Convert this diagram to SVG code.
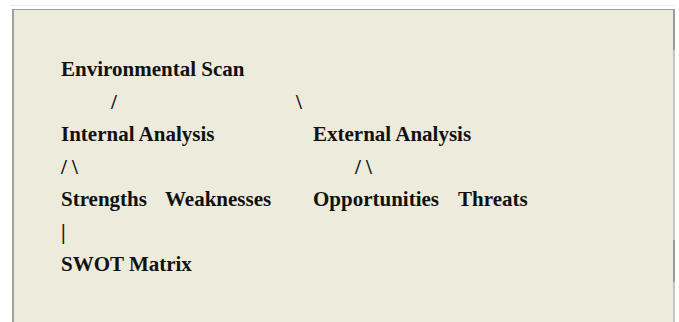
<svg xmlns="http://www.w3.org/2000/svg" width="679" height="322" viewBox="0 0 679 322">
<style>
text { font-family: "Liberation Serif", "Times New Roman", serif; font-size: 21px; font-weight: bold; fill: #111; }
.c { font-weight: normal; }
</style>
<rect x="0" y="0" width="679" height="322" fill="#ffffff"/>
<line x1="10" y1="5.5" x2="676" y2="5.5" stroke="#ededed" stroke-width="1"/>
<rect x="12" y="9" width="662" height="320" fill="#ecebdc"/>
<line x1="12" y1="9.5" x2="674" y2="9.5" stroke="#a0a0a0" stroke-width="1"/>
<line x1="13" y1="9" x2="13" y2="322" stroke="#a0a0a0" stroke-width="2"/>
<line x1="674" y1="9" x2="674" y2="322" stroke="#c4c4c4" stroke-width="2"/>
<line x1="674" y1="9" x2="674" y2="50" stroke="#9a9a9a" stroke-width="2"/>
<line x1="674" y1="240" x2="674" y2="282" stroke="#9a9a9a" stroke-width="2"/>
<g id="connectors">
<text x="111" y="108.5">/</text>
<text x="296" y="108.5">\</text>
<text x="61" y="173.5">/ \</text>
<text x="355" y="173.5">/ \</text>
<text x="61" y="238.5">|</text>
</g>
<g id="environmental-scan"><text x="61" y="76">Environmental Scan</text></g>
<g id="internal-analysis"><text x="61" y="141">Internal Analysis</text></g>
<g id="external-analysis"><text x="313" y="141">External Analysis</text></g>
<g id="strengths"><text x="61" y="206">Strengths</text></g>
<g id="weaknesses"><text x="165" y="206">Weaknesses</text></g>
<g id="opportunities"><text x="313" y="206">Opportunities</text></g>
<g id="threats"><text x="458" y="206">Threats</text></g>
<g id="swot-matrix"><text x="61" y="271">SWOT Matrix</text></g>
</svg>
